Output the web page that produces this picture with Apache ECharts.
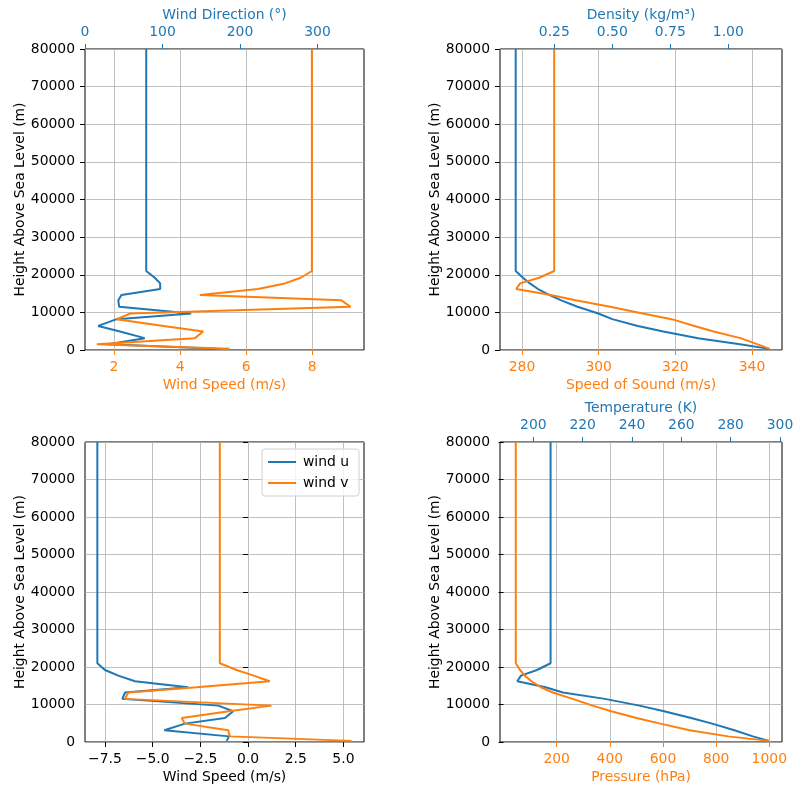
<!DOCTYPE html>
<html><head><meta charset="utf-8">
<script src="https://cdn.jsdelivr.net/npm/echarts@6/dist/echarts.min.js"></script>
<style>html,body{margin:0;padding:0;background:#fff}#c{width:802px;height:796px}</style>
</head><body><div id="c"></div>
<script>
// ---- data (heights in m) ----
const heights = [300, 1500, 3150, 4900, 6400, 8200, 9700, 11500, 13200, 14600, 16200, 17700, 19200, 21000, 80000];
const windDirection = [170, 30, 77, 45, 17, 41, 137, 44, 43, 47, 97, 97, 90, 79, 79];
const windSpeed = [5.5, 1.48, 4.45, 4.7, 3.5, 2.08, 2.5, 9.16, 8.88, 4.6, 6.36, 7.17, 7.65, 7.99, 7.99];
const density = [1.177, 1.05, 0.87, 0.72, 0.61, 0.50, 0.44, 0.35, 0.28, 0.23, 0.18, 0.145, 0.115, 0.0836, 0.0836];
const speedOfSound = [344.6, 341.5, 337, 330, 325, 319, 311.5, 303, 294, 287.5, 278.5, 279.5, 284.5, 288.4, 288.4];
const windU = [-1.12, -1.0, -4.39, -3.31, -1.21, -0.78, -1.56, -6.59, -6.45, -3.14, -5.93, -6.8, -7.5, -7.9, -7.9];
const windV = [5.42, -0.95, -1.04, -3.31, -3.48, -1.0, 1.23, -6.45, -6.28, -2.7, 1.14, 0.3, -0.6, -1.48, -1.48];
const temperature = [295.5, 289, 281.5, 272.5, 264, 253, 243, 229, 212, 205, 193.5, 195, 201.5, 207, 207];
const pressure = [1000, 845, 700, 590, 500, 405, 335, 260, 185, 140, 105, 80, 62, 46, 46];

const ticksWindSpeed = [2, 4, 6, 8];
const ticksWindDir = [0, 100, 200, 300];
const ticksSound = [280, 300, 320, 340];
const ticksDensity = [0.25, 0.5, 0.75, 1.0];
const ticksUV = [-7.5, -5, -2.5, 0, 2.5, 5];
const ticksPressure = [200, 400, 600, 800, 1000];
const ticksTemp = [200, 220, 240, 260, 280, 300];

const BLUE = '#1f77b4', ORANGE = '#ff7f0e', FONT = 'DejaVu Sans', FS = 13.9, GRIDC = '#b0b0b0';

function pairs(xs) { return xs.map((x, i) => [x, heights[i]]); }
function fmtMinus(d) { return v => v.toFixed(d).replace('-', '\u2212'); }

function xAx(grid, pos, min, max, ticks, color, name, fmt) {
  const top = pos === 'top';
  return {
    type: 'value', gridIndex: grid, position: pos, min: min, max: max,
    name: name, nameLocation: 'middle', nameGap: top ? 27 : 28,
    nameTextStyle: { color: color, fontFamily: FONT, fontSize: FS },
    axisLine: { show: false },
    axisTick: { show: true, length: 5, customValues: ticks, lineStyle: { color: color, width: 1 } },
    axisLabel: { show: true, customValues: ticks, margin: 10, color: color, fontFamily: FONT, fontSize: FS, formatter: fmt },
    splitLine: { show: false }
  };
}
function yAx(grid, gap) {
  return {
    type: 'value', gridIndex: grid, min: 0, max: 80000, interval: 10000,
    name: 'Height Above Sea Level (m)', nameLocation: 'middle', nameGap: gap,
    nameTextStyle: { color: '#000', fontFamily: FONT, fontSize: FS },
    axisLine: { show: false },
    axisTick: { show: true, length: 5, lineStyle: { color: '#000', width: 1 } },
    axisLabel: { margin: 10, color: '#000', fontFamily: FONT, fontSize: FS, formatter: v => String(v) },
    splitLine: { show: true, lineStyle: { color: GRIDC, width: 0.8 } }
  };
}
function line(name, xi, yi, data, color) {
  return { name: name, type: 'line', xAxisIndex: xi, yAxisIndex: yi, data: data,
    showSymbol: false, symbol: 'none', lineStyle: { color: color, width: 2 }, itemStyle: { color: color },
    clip: true, z: 3 };
}
// vertical grid lines at the bottom-axis tick values (drawn through the axis scale)
function vgrid(xi, yi, ticks) {
  return { name: 'grid' + xi, type: 'line', xAxisIndex: xi, yAxisIndex: yi, data: [], silent: true, z: 1,
    markLine: { silent: true, z: 1, symbol: ['none', 'none'], label: { show: false },
      emphasis: { disabled: true },
      lineStyle: { color: GRIDC, width: 0.8, type: 'solid' },
      data: ticks.map(v => ({ xAxis: v })) } };
}

const gridBox = { show: true, borderColor: '#000', borderWidth: 1, backgroundColor: 'transparent' };
const option = {
  animation: false,
  backgroundColor: '#fff',
  grid: [
    Object.assign({ left: 85, top: 49, width: 279, height: 301 }, gridBox),
    Object.assign({ left: 500, top: 49, width: 282, height: 301 }, gridBox),
    Object.assign({ left: 85, top: 442, width: 279, height: 300 }, gridBox),
    Object.assign({ left: 500, top: 442, width: 282, height: 300 }, gridBox)
  ],
  xAxis: [
    xAx(0, 'bottom', 1.123, 9.566, ticksWindSpeed, ORANGE, 'Wind Speed (m/s)', v => String(v)),
    xAx(0, 'top', 0, 360, ticksWindDir, BLUE, 'Wind Direction (°)', v => String(v)),
    xAx(1, 'bottom', 274.26, 347.83, ticksSound, ORANGE, 'Speed of Sound (m/s)', v => String(v)),
    xAx(1, 'top', 0.016, 1.2315, ticksDensity, BLUE, 'Density (kg/m³)', v => v.toFixed(2)),
    xAx(2, 'bottom', -8.547, 6.079, ticksUV, '#000', 'Wind Speed (m/s)', fmtMinus(1)),
    xAx(3, 'bottom', -13.36, 1047.8, ticksPressure, ORANGE, 'Pressure (hPa)', v => String(v)),
    xAx(3, 'top', 186.5, 300.8, ticksTemp, BLUE, 'Temperature (K)', v => String(v))
  ],
  yAxis: [yAx(0, 57), yAx(1, 54), yAx(2, 57), yAx(3, 54)],
  legend: {
    data: ['wind u', 'wind v'], orient: 'vertical', left: 262, top: 449,
    padding: [6, 10, 6, 6], itemGap: 7, itemWidth: 28, itemHeight: 2, icon: 'rect',
    backgroundColor: 'rgba(255,255,255,0.8)', borderColor: '#d0d0d0', borderWidth: 1, borderRadius: 3,
    textStyle: { fontFamily: FONT, fontSize: FS, color: '#000', padding: [0, 0, 0, 2] }
  },
  series: [
    vgrid(0, 0, ticksWindSpeed),
    vgrid(2, 1, ticksSound),
    vgrid(4, 2, ticksUV),
    vgrid(5, 3, ticksPressure),
    line('Wind Direction', 1, 0, pairs(windDirection), BLUE),
    line('Wind Speed', 0, 0, pairs(windSpeed), ORANGE),
    line('Density', 3, 1, pairs(density), BLUE),
    line('Speed of Sound', 2, 1, pairs(speedOfSound), ORANGE),
    line('wind u', 4, 2, pairs(windU), BLUE),
    line('wind v', 4, 2, pairs(windV), ORANGE),
    line('Temperature', 6, 3, pairs(temperature), BLUE),
    line('Pressure', 5, 3, pairs(pressure), ORANGE)
  ]
};
const chart = echarts.init(document.getElementById('c'), null, { renderer: 'canvas' });
chart.setOption(option);
</script></body></html>
